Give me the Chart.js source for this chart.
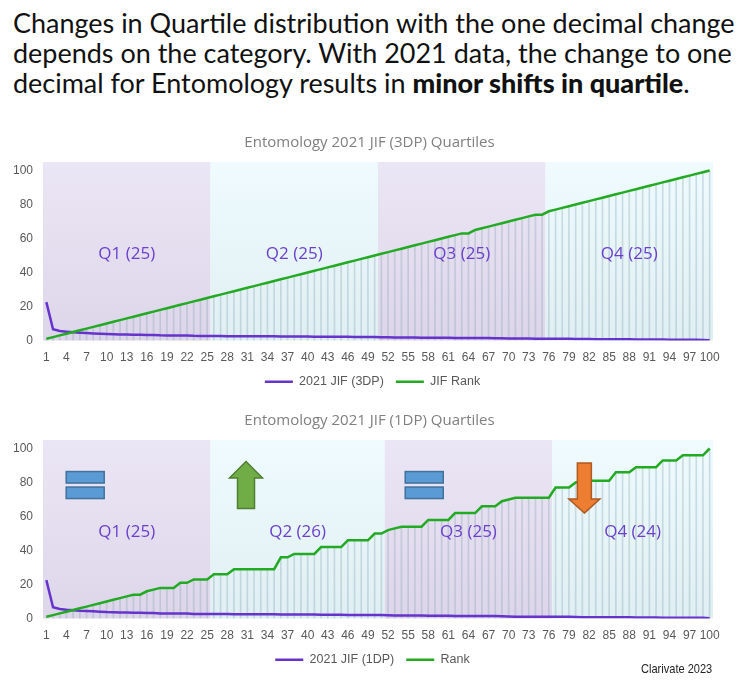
<!DOCTYPE html>
<html><head><meta charset="utf-8">
<script src="https://cdn.jsdelivr.net/npm/chart.js@4.4.1/dist/chart.umd.min.js"></script>
<style>
html,body{margin:0;padding:0;background:#fff;width:743px;height:685px;overflow:hidden;}
#head{position:absolute;left:13px;top:8px;font-family:Lato,"Noto Sans",sans-serif;font-size:25px;line-height:30px;color:#111;white-space:nowrap;}
#head b{font-weight:900;}
.wrap{position:absolute;left:0;width:743px;height:270px;}
#c1wrap{top:128px}
#c2wrap{top:406px}
#credit{position:absolute;left:641px;top:661px;font-family:"Liberation Sans Narrow","Liberation Sans",sans-serif;font-size:13px;color:#222;transform:scaleX(0.85);transform-origin:left top;white-space:nowrap;}
</style></head><body>
<div id="head"><span id="l1">Changes in Quartile distribution with the one decimal change</span><br>depends on the category. With 2021 data, the change to one<br>decimal for Entomology results in <b>minor shifts in quartile</b>.</div>
<div class="wrap" id="c1wrap"><canvas id="c1"></canvas></div>
<div class="wrap" id="c2wrap"><canvas id="c2"></canvas></div>
<div id="credit">Clarivate 2023</div>
<script>
// ---------- DATA ----------
const categories = ['1','2','3','4','5','6','7','8','9','10','11','12','13','14','15','16','17','18','19','20',
'21','22','23','24','25','26','27','28','29','30','31','32','33','34','35','36','37','38','39','40',
'41','42','43','44','45','46','47','48','49','50','51','52','53','54','55','56','57','58','59','60',
'61','62','63','64','65','66','67','68','69','70','71','72','73','74','75','76','77','78','79','80',
'81','82','83','84','85','86','87','88','89','90','91','92','93','94','95','96','97','98','99','100'];

const jif3dp = [22.571,6.612,5.578,5.203,4.892,4.605,4.398,4.187,4.012,3.835,3.712,3.588,3.491,3.412,3.378,3.291,3.214,3.048,3.012,2.987,
2.912,2.875,2.738,2.705,2.683,2.631,2.602,2.558,2.547,2.531,2.514,2.496,2.482,2.471,2.455,2.421,2.368,2.341,2.317,2.284,
2.256,2.238,2.214,2.187,2.153,2.142,2.118,2.096,2.061,2.013,1.982,1.874,1.812,1.738,1.712,1.694,1.658,1.631,1.602,1.578,
1.553,1.521,1.496,1.496,1.462,1.438,1.412,1.367,1.318,1.224,1.148,1.132,1.107,1.083,1.083,1.051,1.012,0.987,0.964,0.912,
0.843,0.821,0.806,0.788,0.762,0.718,0.703,0.674,0.642,0.615,0.597,0.562,0.538,0.512,0.476,0.443,0.421,0.398,0.362,0.214];

const rank3dp = [1,2,3,4,5,6,7,8,9,10,11,12,13,14,15,16,17,18,19,20,
21,22,23,24,25,26,27,28,29,30,31,32,33,34,35,36,37,38,39,40,
41,42,43,44,45,46,47,48,49,50,51,52,53,54,55,56,57,58,59,60,
61,62,63,63,65,66,67,68,69,70,71,72,73,74,74,76,77,78,79,80,
81,82,83,84,85,86,87,88,89,90,91,92,93,94,95,96,97,98,99,100];

const jif1dp = [22.6,6.6,5.6,5.2,4.9,4.6,4.4,4.2,4.0,3.8,3.7,3.6,3.5,3.4,3.4,3.3,3.2,3.0,3.0,3.0,
2.9,2.9,2.7,2.7,2.7,2.6,2.6,2.6,2.5,2.5,2.5,2.5,2.5,2.5,2.5,2.4,2.4,2.3,2.3,2.3,
2.3,2.2,2.2,2.2,2.2,2.1,2.1,2.1,2.1,2.0,2.0,1.9,1.8,1.7,1.7,1.7,1.7,1.6,1.6,1.6,
1.6,1.5,1.5,1.5,1.5,1.4,1.4,1.4,1.3,1.2,1.1,1.1,1.1,1.1,1.1,1.1,1.0,1.0,1.0,0.9,
0.8,0.8,0.8,0.8,0.8,0.7,0.7,0.7,0.6,0.6,0.6,0.6,0.5,0.5,0.5,0.4,0.4,0.4,0.4,0.2];

const rank1dp = [1,2,3,4,5,6,7,8,9,10,11,12,13,14,14,16,17,18,18,18,
21,21,23,23,23,26,26,26,29,29,29,29,29,29,29,36,36,38,38,38,
38,42,42,42,42,46,46,46,46,50,50,52,53,54,54,54,54,58,58,58,
58,62,62,62,62,66,66,66,69,70,71,71,71,71,71,71,77,77,77,80,
81,81,81,81,81,86,86,86,89,89,89,89,93,93,93,96,96,96,96,100];

const quartileCounts3dp = [25,25,25,25];
const quartileCounts1dp = [25,26,25,24];
const quartileNames = ['Q1','Q2','Q3','Q4'];
const yTickValues = [0,20,40,60,80,100];

// ---------- RENDER ----------
(function fitHead(){
  const l1 = document.getElementById('l1');
  const head = document.getElementById('head');
  const w = l1.getBoundingClientRect().width;
  const fs = 25 * 722 / w;
  head.style.fontSize = fs.toFixed(2) + 'px';
})();

const PURPLE = '#6633cc';
const GREEN = '#22aa22';
const LABEL_FONT = '"Liberation Sans Narrow","Liberation Sans",sans-serif';

function quartileEdges(x, a, counts) {
  const out = [];
  let start = 0;
  counts.forEach((n, qi) => {
    const endIdx = start + n - 1;
    const x0 = qi === 0 ? a.left : (x.getPixelForValue(start - 1) + x.getPixelForValue(start)) / 2;
    const x1 = qi === counts.length - 1 ? a.right : (x.getPixelForValue(endIdx) + x.getPixelForValue(endIdx + 1)) / 2;
    out.push([x0, x1, n]);
    start += n;
  });
  return out;
}

// shift the title and legend boxes so they centre over the page like the reference
const shiftPlugin = {
  id: 'shiftBlocks',
  afterLayout(chart) {
    if (chart.titleBlock) { chart.titleBlock.left += 13; chart.titleBlock.right += 13; }
    if (chart.legend) { chart.legend.left += 16; chart.legend.right += 16; }
  }
};

const quartilePlugin = {
  id: 'quartiles',
  beforeDatasetsDraw(chart, args, opts) {
    const {ctx, chartArea: a, scales: {x}} = chart;
    ctx.save();
    quartileEdges(x, a, opts.counts).forEach(([x0, x1], qi) => {
      const pal = qi % 2 === 0 ? ['#ebe6f5', '#ddd6ea'] : ['#effbfe', '#e0eff3'];
      const g = ctx.createLinearGradient(0, a.top, 0, a.bottom);
      g.addColorStop(0, pal[0]); g.addColorStop(1, pal[1]);
      ctx.fillStyle = g;
      ctx.fillRect(x0, a.top, x1 - x0, a.bottom - a.top);
    });
    ctx.restore();
  },
  afterDatasetsDraw(chart, args, opts) {
    const {ctx, chartArea: a, scales: {x, y}} = chart;
    ctx.save();
    ctx.font = '17px "Open Sans", sans-serif';
    ctx.fillStyle = '#6a40cc';
    ctx.textAlign = 'center';
    ctx.textBaseline = 'middle';
    quartileEdges(x, a, opts.counts).forEach(([x0, x1, n], qi) => {
      ctx.fillText(quartileNames[qi] + ' (' + n + ')', (x0 + x1) / 2, y.getPixelForValue(51));
    });
    (opts.marks || []).forEach(m => {
      const cx = x.getPixelForValue(m.at[0]);
      const cy = y.getPixelForValue(m.at[1]);
      ctx.lineWidth = 1.5;
      if (m.kind === 'equals') {
        ctx.fillStyle = '#5b9bd5'; ctx.strokeStyle = '#41719c';
        [[-13.5, 11.5], [2, 11.5]].forEach(([dy, h]) => {
          ctx.fillRect(cx - 19, cy + dy, 38, h);
          ctx.strokeRect(cx - 19, cy + dy, 38, h);
        });
      } else {
        const up = m.kind === 'up';
        ctx.fillStyle = up ? '#70ad47' : '#ed7d31';
        ctx.strokeStyle = up ? '#507e32' : '#ae5a21';
        const hw = up ? 16.5 : 15.5, sw = up ? 8.5 : 7, hh = up ? 16.5 : 14, half = up ? 23.5 : 25;
        const s = up ? 1 : -1;
        const tip = cy - s * half, base = cy + s * half, neck = tip + s * hh;
        ctx.beginPath();
        ctx.moveTo(cx, tip);
        ctx.lineTo(cx + hw, neck);
        ctx.lineTo(cx + sw, neck);
        ctx.lineTo(cx + sw, base);
        ctx.lineTo(cx - sw, base);
        ctx.lineTo(cx - sw, neck);
        ctx.lineTo(cx - hw, neck);
        ctx.closePath();
        ctx.fill(); ctx.stroke();
      }
    });
    ctx.restore();
  }
};

function makeChart(id, title, jif, jifLabel, rank, rankLabel, counts, marks) {
  return new Chart(document.getElementById(id), {
    type: 'bar',
    data: {
      labels: categories,
      datasets: [
        {type: 'line', label: jifLabel, data: jif, borderColor: PURPLE, backgroundColor: PURPLE,
         borderWidth: 2.5, pointRadius: 0, tension: 0, order: 1},
        {type: 'line', label: rankLabel, data: rank, borderColor: GREEN, backgroundColor: GREEN,
         borderWidth: 2.5, pointRadius: 0, tension: 0, order: 0},
        {type: 'bar', label: 'drop', data: rank, backgroundColor: 'rgba(130,160,175,0.33)',
         barThickness: 1, order: 2}
      ]
    },
    plugins: [quartilePlugin, shiftPlugin],
    options: {
      responsive: true, maintainAspectRatio: false, animation: false,
      layout: {padding: {left: 0, right: 30, top: 0, bottom: 0}},
      plugins: {
        quartiles: {counts: counts, marks: marks},
        title: {display: true, text: title, color: '#808080',
                font: {size: 15, family: '"Open Sans", sans-serif', weight: 'normal'},
                padding: {top: 6, bottom: 10}},
        legend: {position: 'bottom',
          labels: {usePointStyle: true, pointStyle: 'line', pointStyleWidth: 28,
                   color: '#595959', font: {size: 12.5, family: LABEL_FONT}, padding: 12,
                   sort: (a, b) => a.datasetIndex - b.datasetIndex,
                   filter: it => it.text !== 'drop'}},
        tooltip: {enabled: false}
      },
      scales: {
        x: {grid: {display: false, drawTicks: false}, border: {display: false},
            ticks: {autoSkip: false, maxRotation: 0, minRotation: 0, padding: 10,
                    color: '#595959', font: {size: 12, family: LABEL_FONT},
                    callback: (v, i) => i % 3 === 0 ? categories[i] : ''},
            afterFit: s => { s.height = 23; }},
        y: {min: 0, max: 105, grid: {display: false, drawTicks: false}, border: {display: false},
            ticks: {padding: 10, color: '#595959', font: {size: 12, family: LABEL_FONT}},
            afterBuildTicks: s => { s.ticks = yTickValues.map(v => ({value: v})); },
            afterFit: s => { s.width = 43; }}
      }
    }
  });
}

makeChart('c1', 'Entomology 2021 JIF (3DP) Quartiles', jif3dp, '2021 JIF (3DP)', rank3dp, 'JIF Rank', quartileCounts3dp, []);
makeChart('c2', 'Entomology 2021 JIF (1DP) Quartiles', jif1dp, '2021 JIF (1DP)', rank1dp, 'Rank', quartileCounts1dp, [
  {kind: 'equals', at: [5.8, 78.5]},
  {kind: 'up', at: [29.8, 78.5]},
  {kind: 'equals', at: [56.4, 78.5]},
  {kind: 'down', at: [80.3, 76.7]}
]);
</script>
</body></html>
